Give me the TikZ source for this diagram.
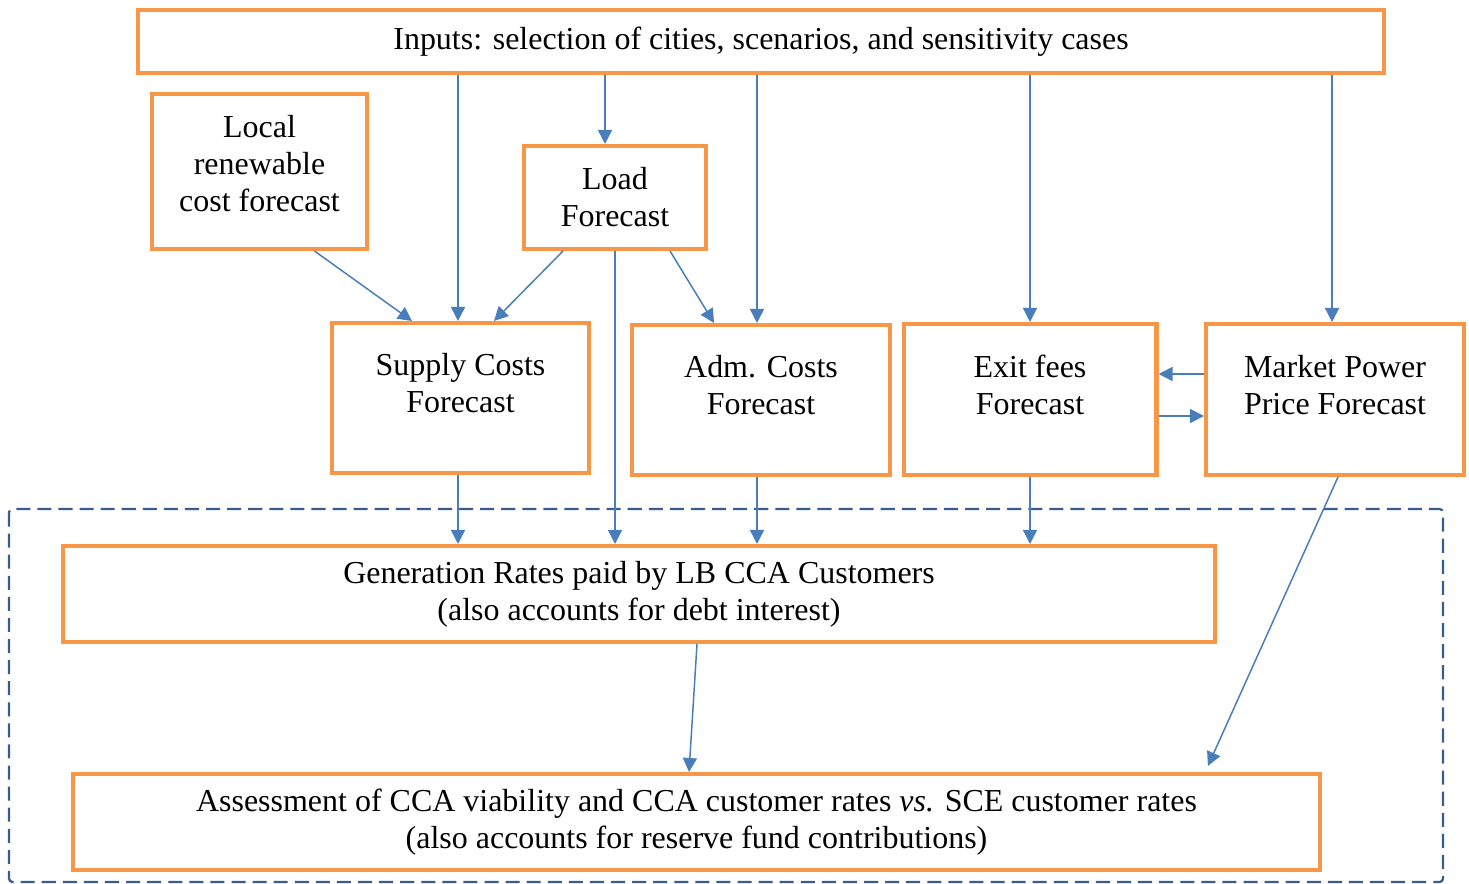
\documentclass[tikz,border=0pt]{standalone}
\usepackage{fontspec}
\setmainfont{Liberation Serif}
\usetikzlibrary{arrows.meta, positioning, calc}
\definecolor{boxorange}{RGB}{247,150,70}
\definecolor{arrowblue}{RGB}{74,126,187}
\definecolor{frameblue}{RGB}{56,93,138}

\begin{document}
\begin{tikzpicture}[x=0.02cm, y=-0.02cm,
    box/.style={draw=boxorange, line width=2.3pt, align=center, inner sep=2pt, font=\fontsize{18.2}{21}\selectfont},
    link/.style={draw=arrowblue, line width=0.85pt, -{Triangle[length=0.28cm, width=0.28cm]}}]
    \useasboundingbox (0,0) rectangle (1469,884);
    % dashed frame round the rate model
    \draw[frameblue, line width=1.3pt, dash pattern=on 8pt off 4pt, rounded corners=2pt] (9,509) rectangle (1443,882);

    \node[box, minimum width=24.92cm, minimum height=1.26cm] (in) at (761,41.5) {Inputs: selection of cities, scenarios, and sensitivity cases};
    \node[box, minimum width=4.3cm, minimum height=3.1cm] (loc) at (259.5,171.5) {Local\\renewable\\cost forecast\\[-12pt]};
    \node[box, minimum width=3.64cm, minimum height=2.06cm] (ld) at (615,197.5) {Load\\Forecast};
    \node[box, minimum width=5.14cm, minimum height=3cm] (sup) at (460.5,398) {Supply Costs\\Forecast\\[-4pt]};
    \node[box, minimum width=5.16cm, minimum height=3cm] (adm) at (761,400) {Adm. Costs\\Forecast\\[-4pt]};
    \node[box, minimum width=5.06cm, minimum height=3.02cm] (ex) at (1030,399.5) {Exit fees\\Forecast\\[-4pt]};
    \node[box, minimum width=5.16cm, minimum height=3.02cm] (mkt) at (1335,399.5) {Market Power\\Price Forecast\\[-4pt]};
    \node[box, minimum width=23.04cm, minimum height=1.92cm] (gen) at (639,594) {Generation Rates paid by LB CCA Customers\\(also accounts for debt interest)};
    \node[box, minimum width=24.94cm, minimum height=1.92cm] (ass) at (696.5,822) {Assessment of CCA viability and CCA customer rates \textit{vs.} SCE customer rates\\(also accounts for reserve fund contributions)};

    % inputs feed the forecasts
    \draw[link] ([xshift=-0.05cm]in.south -| sup.north) -- ([xshift=-0.05cm]sup.north);
    \draw[link] ([xshift=-0.2cm]in.south -| ld.north) -- ([xshift=-0.2cm]ld.north);
    \draw[link] ([xshift=-0.08cm]in.south -| adm.north) -- ([xshift=-0.08cm]adm.north);
    \draw[link] (in.south -| ex.north) -- (ex.north);
    \draw[link] ([xshift=-0.06cm]in.south -| mkt.north) -- ([xshift=-0.06cm]mkt.north);
    \draw[link] ([xshift=1.1cm]loc.south) -- ([xshift=-0.97cm]sup.north);
    \draw[link] ([xshift=-1.04cm]ld.south) -- ([xshift=0.67cm]sup.north);
    \draw[link] ([xshift=1.1cm]ld.south) -- ([xshift=-0.94cm]adm.north);
    \draw[link] (mkt.west |- 0,374) -- (ex.east |- 0,374);
    \draw[link] (ex.east |- 0,416) -- (mkt.west |- 0,416);

    % forecasts into the rates
    \draw[link] ([xshift=-0.05cm]sup.south) -- ([xshift=-0.05cm]sup.south |- gen.north);
    \draw[link] (ld.south) -- (ld.south |- gen.north);
    \draw[link] ([xshift=-0.08cm]adm.south) -- ([xshift=-0.08cm]adm.south |- gen.north);
    \draw[link] (ex.south) -- (ex.south |- gen.north);
    \draw[link] ([xshift=1.16cm]gen.south) -- ([xshift=-0.15cm]ass.north);
    \draw[link] ([xshift=0.06cm]mkt.south) -- ([xshift=10.23cm, yshift=0.12cm]ass.north);
\end{tikzpicture}
\end{document}
